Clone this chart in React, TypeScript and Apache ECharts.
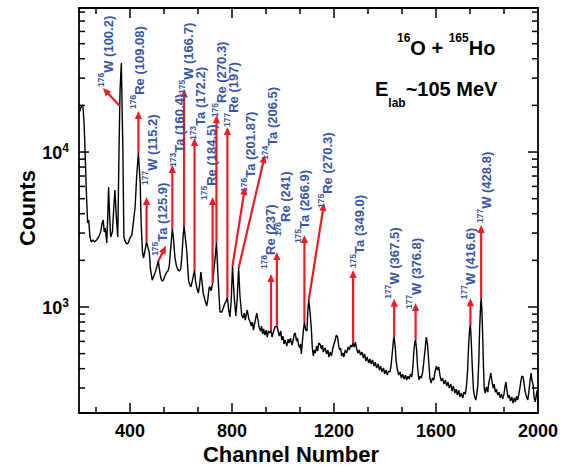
import React, { useEffect, useRef } from 'react';
import * as echarts from 'echarts';

// gamma-ray singles spectrum: channel number vs counts
const channel = [
  202, 208, 215, 220, 225, 230, 234, 238, 243, 248, 255, 261, 269, 277, 285, 290, 295, 299, 303, 309,
  313, 316, 320, 324, 331, 337, 341, 346, 352, 357, 361, 366, 372, 376, 382, 388, 393, 400, 407, 413,
  420, 426, 433, 440, 444, 449, 453, 459, 465, 471, 476, 480, 487, 492, 498, 504, 511, 516, 520, 525,
  531, 537, 544, 549, 554, 559, 566, 571, 576, 582, 589, 594, 599, 604, 608, 612, 617, 623, 627, 630,
  636, 639, 645, 653, 657, 663, 668, 673, 678, 683, 687, 694, 701, 705, 710, 714, 718, 724, 729, 735,
  739, 744, 749, 753, 760, 766, 771, 776, 782, 787, 792, 797, 802, 808, 815, 820, 826, 831, 838, 843,
  848, 852, 856, 860, 865, 871, 876, 880, 884, 890, 897, 902, 906, 912, 916, 920, 924, 929, 934, 938,
  943, 949, 953, 957, 962, 969, 976, 980, 986, 991, 995, 1000, 1004, 1008, 1015, 1020, 1024, 1029, 1035, 1040,
  1044, 1048, 1053, 1057, 1061, 1066, 1069, 1072, 1076, 1080, 1084, 1089, 1094, 1097, 1101, 1106, 1111, 1115, 1119, 1123,
  1127, 1132, 1136, 1140, 1145, 1151, 1155, 1158, 1165, 1171, 1176, 1180, 1185, 1190, 1195, 1200, 1205, 1209, 1214, 1218,
  1222, 1226, 1230, 1235, 1239, 1244, 1250, 1255, 1260, 1265, 1270, 1275, 1279, 1284, 1289, 1294, 1299, 1304, 1310, 1315,
  1320, 1325, 1330, 1336, 1341, 1346, 1351, 1357, 1362, 1367, 1373, 1378, 1383, 1388, 1394, 1399, 1404, 1409, 1414, 1420,
  1424, 1429, 1433, 1436, 1440, 1444, 1449, 1454, 1459, 1464, 1469, 1475, 1480, 1485, 1490, 1495, 1500, 1505, 1509, 1513,
  1517, 1520, 1524, 1528, 1533, 1537, 1542, 1548, 1552, 1557, 1562, 1567, 1571, 1576, 1581, 1586, 1591, 1596, 1602, 1606,
  1611, 1616, 1621, 1626, 1631, 1637, 1642, 1647, 1652, 1658, 1663, 1668, 1674, 1679, 1684, 1689, 1694, 1699, 1705, 1710,
  1715, 1720, 1724, 1728, 1732, 1735, 1738, 1742, 1747, 1751, 1756, 1760, 1764, 1768, 1771, 1775, 1777, 1780, 1783, 1786,
  1789, 1793, 1798, 1803, 1807, 1811, 1815, 1819, 1824, 1828, 1833, 1837, 1842, 1847, 1852, 1857, 1862, 1867, 1871, 1874,
  1878, 1883, 1887, 1892, 1897, 1902, 1907, 1911, 1916, 1920, 1925, 1929, 1933, 1937, 1942, 1946, 1950, 1955, 1960, 1964,
  1969, 1973, 1976, 1981, 1985, 1989, 1994, 1997, 2000,
];

const counts = [
  18100, 19530, 20100, 15380, 8880, 4900, 3480, 3640, 2830, 2630, 2710, 2630, 2710, 2830, 3050, 3430, 3640, 3050, 3230, 2590,
  3920, 5950, 3920, 2830, 3050, 4550, 5690, 3920, 2830, 10300, 25100, 37500, 10300, 2830, 2630, 2550, 2590, 2790, 2910, 3480,
  4420, 6900, 9850, 6310, 3380, 2260, 2070, 2330, 2630, 2400, 2230, 1780, 1490, 1560, 1660, 1780, 1980, 1730, 1560, 1470,
  1490, 1590, 1680, 1710, 1840, 2330, 3190, 2710, 2100, 1840, 1730, 1710, 1760, 2170, 2830, 3330, 2790, 2260, 1730, 1470,
  1370, 1350, 1490, 1730, 1470, 1310, 1230, 1390, 1680, 1430, 1230, 1110, 1015, 1110, 1330, 1350, 1270, 1430, 1730, 2170,
  2630, 1730, 1180, 928, 928, 985, 1046, 1078, 1161, 956, 862, 1110, 1838, 1195, 874, 1110, 1784, 1195, 888, 849,
  914, 824, 901, 956, 849, 800, 753, 800, 710, 800, 914, 824, 743, 700, 753, 669, 721, 659, 710, 640,
  700, 679, 710, 640, 689, 743, 753, 710, 649, 700, 612, 649, 577, 612, 560, 621, 585, 630, 568, 612,
  669, 679, 603, 630, 568, 544, 577, 498, 594, 710, 800, 710, 700, 928, 1110, 928, 732, 544, 483, 528,
  505, 560, 520, 585, 577, 536, 568, 512, 544, 498, 528, 476, 512, 483, 536, 577, 612, 659, 640, 568,
  528, 544, 483, 505, 476, 528, 505, 552, 528, 568, 552, 585, 552, 594, 536, 505, 528, 490, 512, 469,
  498, 448, 476, 435, 462, 429, 455, 416, 441, 404, 429, 392, 416, 381, 404, 369, 392, 364, 386, 381,
  423, 512, 612, 640, 552, 441, 392, 364, 381, 348, 369, 343, 364, 338, 358, 343, 369, 353, 404, 512,
  594, 612, 528, 404, 338, 358, 348, 381, 441, 528, 640, 568, 455, 348, 323, 348, 338, 381, 416, 392,
  410, 358, 333, 348, 318, 338, 309, 328, 300, 318, 287, 309, 278, 295, 270, 291, 263, 278, 259, 282,
  274, 314, 392, 568, 732, 765, 612, 423, 291, 266, 251, 274, 314, 455, 710, 1030, 1143, 956, 659, 423,
  300, 278, 305, 282, 323, 348, 375, 338, 300, 318, 282, 295, 270, 282, 259, 274, 255, 278, 309, 328,
  291, 259, 270, 247, 263, 240, 259, 244, 266, 251, 274, 300, 333, 358, 353, 314, 282, 263, 251, 282,
  338, 375, 338, 314, 259, 244, 274, 291, 224,
];

// axis ranges and tick values
const xMin = 200;
const xMax = 2000;
const yMin = 207;
const yMax = 85000;
const xTicks = [266.67, 400, 533.33, 666.67, 800, 933.33, 1066.67, 1200, 1333.33, 1466.67, 1600, 1733.33, 1866.67];
const xMajor = [400, 800, 1200, 1600];
const yTicks = [
  300, 400, 500, 600, 700, 800, 900, 1000,
  2000, 3000, 4000, 5000, 6000, 7000, 8000, 9000, 10000,
  20000, 30000, 40000, 50000, 60000, 70000, 80000,
];
const yMajor = [1000, 10000];

// peak assignments: mass number, element, gamma energy (keV)
const nuclide = ['176', '176', '177', '175', '173', '175', '173', '175', '175', '177', '176', '174', '178', '176', '175', '175', '175', '177', '177', '177', '177'];
const element = ['W', 'Re', 'W', 'Ta', 'Ta', 'W', 'Ta', 'Re', 'Re', 'Re', 'Ta', 'Ta', 'Re', 'Re', 'Ta', 'Re', 'Ta', 'W', 'W', 'W', 'W'];
const energy = ['100.2', '109.08', '115.2', '125.9', '160.4', '166.7', '172.2', '184.5', '270.3', '197', '201.87', '206.5', '237', '241', '266.9', '270.3', '349.0', '367.5', '376.8', '416.6', '428.8'];

// arrow start (on the peak) and arrow head, as [channel, counts]
const arrowBase = [
  [360, 19800], [433, 9850], [465, 2630], [511, 1980], [566, 3190], [612, 3330], [653, 1730],
  [724, 1430], [739, 2630], [782, 1161], [802, 1838], [826, 1784], [953, 710], [976, 753],
  [1084, 800], [1101, 1110], [1275, 585], [1436, 640], [1520, 612], [1735, 765], [1777, 1143],
];
const arrowTip = [
  [294, 25900], [433, 18400], [465, 5130], [541, 2480], [566, 8250], [612, 25500], [653, 12300],
  [724, 5130], [739, 17300], [782, 14500], [851, 5950], [929, 9560], [953, 1630], [976, 2260],
  [1084, 2910], [1161, 4690], [1275, 1730], [1436, 1130], [1520, 1060], [1735, 1140], [1777, 3380],
];
// label placement relative to the arrow head, in pixels
const labelOffset = [
  [3, -1], [-1, -2], [3, -12], [-6, 10], [5, 2], [2, 5], [3, 2],
  [-4, 3], [3, 2], [4, 0], [3, 5], [5, 5], [-3, -5], [6, -16],
  [-2, 8], [1, 5], [4, -2], [-2, 0], [-2, 6], [-2, 1], [3, -2],
];

const FONT = '"Liberation Sans", Arial, sans-serif';
const RED = '#ec1c24';
const BLUE = '#3656a6';

export default function App() {
  const ref = useRef<HTMLDivElement>(null);

  useEffect(() => {
    if (!ref.current) return;
    const chart = echarts.init(ref.current, null, { renderer: 'svg' });

    const spectrum = channel.map((c, i) => [c, counts[i]]);
    const tickData = [
      ...xTicks.map((v) => [v, yMin, 0]),
      ...yTicks.map((v) => [xMin, v, 1]),
    ];
    const arrowData = arrowBase.map((b, i) => [b[0], b[1], arrowTip[i][0], arrowTip[i][1]]);
    const labelData = arrowTip.map((t, i) => [t[0], t[1], i]);

    const axisLine = { show: true, lineStyle: { color: '#000', width: 1.8 } };

    const option: any = {
      animation: false,
      backgroundColor: '#fff',
      grid: { left: 79, top: 8, width: 459, height: 405 },
      xAxis: [
        {
          type: 'value', min: xMin, max: xMax, interval: 200, position: 'bottom',
          axisLine, axisTick: { show: false }, splitLine: { show: false },
          axisLabel: {
            margin: 9, color: '#000', fontSize: 18, fontWeight: 'bold', fontFamily: FONT,
            formatter: (v: number) => (v % 400 === 0 ? String(v) : ''),
          },
        },
        {
          type: 'value', min: xMin, max: xMax, interval: 200, position: 'top',
          axisLine, axisTick: { show: false }, splitLine: { show: false }, axisLabel: { show: false },
        },
      ],
      yAxis: [
        {
          type: 'log', min: yMin, max: yMax, position: 'left',
          axisLine, axisTick: { show: false }, splitLine: { show: false },
          axisLabel: {
            margin: 10,
            formatter: (v: number) => {
              const e = Math.round(Math.log10(v));
              return Math.abs(v - Math.pow(10, e)) < 1e-6 * v ? `{b|10}{e|${e}}` : '';
            },
            rich: {
              b: { fontSize: 18, fontWeight: 'bold', color: '#000', fontFamily: FONT, lineHeight: 20, verticalAlign: 'bottom' },
              e: { fontSize: 12, fontWeight: 'bold', color: '#000', fontFamily: FONT, lineHeight: 20, verticalAlign: 'top' },
            },
          },
        },
        {
          type: 'log', min: yMin, max: yMax, position: 'right',
          axisLine, axisTick: { show: false }, splitLine: { show: false }, axisLabel: { show: false },
        },
      ],
      series: [
        {
          type: 'line',
          data: spectrum,
          showSymbol: false,
          symbol: 'none',
          lineStyle: { color: '#000', width: 1.4 },
          z: 2,
        },
        {
          type: 'custom',
          z: 3,
          data: arrowData,
          encode: { x: [0, 2], y: [1, 3] },
          renderItem: (_p: any, api: any) => {
            const p0 = api.coord([api.value(0), api.value(1)]);
            const p1 = api.coord([api.value(2), api.value(3)]);
            const dx = p1[0] - p0[0];
            const dy = p1[1] - p0[1];
            const len = Math.hypot(dx, dy) || 1;
            const ux = dx / len;
            const uy = dy / len;
            const headLen = 8;
            const headW = 3.6;
            const bx = p1[0] - ux * headLen;
            const by = p1[1] - uy * headLen;
            return {
              type: 'group',
              children: [
                {
                  type: 'line',
                  shape: { x1: p0[0], y1: p0[1], x2: bx + ux, y2: by + uy },
                  style: { stroke: RED, lineWidth: 2.2 },
                },
                {
                  type: 'polygon',
                  shape: { points: [[p1[0], p1[1]], [bx - uy * headW, by + ux * headW], [bx + uy * headW, by - ux * headW]] },
                  style: { fill: RED },
                },
              ],
            };
          },
        },
        {
          type: 'custom',
          z: 4,
          data: labelData,
          encode: { x: 0, y: 1 },
          renderItem: (_p: any, api: any) => {
            const i = api.value(2);
            const p = api.coord([api.value(0), api.value(1)]);
            return {
              type: 'text',
              x: p[0] + labelOffset[i][0],
              y: p[1] + labelOffset[i][1],
              rotation: Math.PI / 2,
              style: {
                text: `{s|${nuclide[i]}}{m|${element[i]} (${energy[i]})}`,
                align: 'left',
                verticalAlign: 'middle',
                rich: {
                  s: { fontSize: 8.5, fontWeight: 'bold', fill: BLUE, fontFamily: FONT, lineHeight: 18, verticalAlign: 'top' },
                  m: { fontSize: 13, fontWeight: 'bold', fill: BLUE, fontFamily: FONT, lineHeight: 18, verticalAlign: 'bottom' },
                },
              },
            };
          },
        },
        {
          type: 'custom',
          z: 5,
          data: tickData,
          encode: { x: 0, y: 1 },
          renderItem: (_p: any, api: any) => {
            const kind = api.value(2);
            const style = { stroke: '#000', lineWidth: 1.5 };
            if (kind === 0) {
              const v = api.value(0);
              const len = xMajor.indexOf(v) >= 0 ? 10 : 6;
              const pb = api.coord([v, yMin]);
              const pt = api.coord([v, yMax]);
              return {
                type: 'group',
                children: [
                  { type: 'line', shape: { x1: pb[0], y1: pb[1], x2: pb[0], y2: pb[1] - len }, style },
                  { type: 'line', shape: { x1: pt[0], y1: pt[1], x2: pt[0], y2: pt[1] + len }, style },
                ],
              };
            }
            const v = api.value(1);
            const len = yMajor.indexOf(v) >= 0 ? 10 : 6;
            const pl = api.coord([xMin, v]);
            const pr = api.coord([xMax, v]);
            return {
              type: 'group',
              children: [
                { type: 'line', shape: { x1: pl[0], y1: pl[1], x2: pl[0] + len, y2: pl[1] }, style },
                { type: 'line', shape: { x1: pr[0], y1: pr[1], x2: pr[0] - len, y2: pr[1] }, style },
              ],
            };
          },
        },
      ],
      graphic: [
        {
          type: 'text',
          x: 397,
          y: 45,
          style: {
            text: '{s|16}{m|O + }{s|165}{m|Ho}',
            align: 'left',
            verticalAlign: 'middle',
            rich: {
              s: { fontSize: 12, fontWeight: 'bold', fill: '#000', fontFamily: FONT, lineHeight: 26, verticalAlign: 'top' },
              m: { fontSize: 20, fontWeight: 'bold', fill: '#000', fontFamily: FONT, lineHeight: 26, verticalAlign: 'bottom' },
            },
          },
        },
        {
          type: 'text',
          x: 375,
          y: 94,
          style: {
            text: '{m|E}{b|lab}{m|~105 MeV}',
            align: 'left',
            verticalAlign: 'middle',
            rich: {
              m: { fontSize: 20, fontWeight: 'bold', fill: '#000', fontFamily: FONT, lineHeight: 30, verticalAlign: 'top' },
              b: { fontSize: 12, fontWeight: 'bold', fill: '#000', fontFamily: FONT, lineHeight: 30, verticalAlign: 'bottom' },
            },
          },
        },
        {
          type: 'text',
          x: 27,
          y: 208,
          rotation: Math.PI / 2,
          style: {
            text: 'Counts',
            fontSize: 22,
            fontWeight: 'bold',
            fontFamily: FONT,
            fill: '#000',
            align: 'center',
            verticalAlign: 'middle',
          },
        },
        {
          type: 'text',
          x: 291,
          y: 454,
          style: {
            text: 'Channel Number',
            fontSize: 22,
            fontWeight: 'bold',
            fontFamily: FONT,
            fill: '#000',
            align: 'center',
            verticalAlign: 'middle',
          },
        },
      ],
    };

    chart.setOption(option);
    return () => chart.dispose();
  }, []);

  return (
    <div
      ref={ref}
      style={{ position: 'fixed', left: 0, top: 0, width: 581, height: 467, background: '#fff' }}
    />
  );
}
